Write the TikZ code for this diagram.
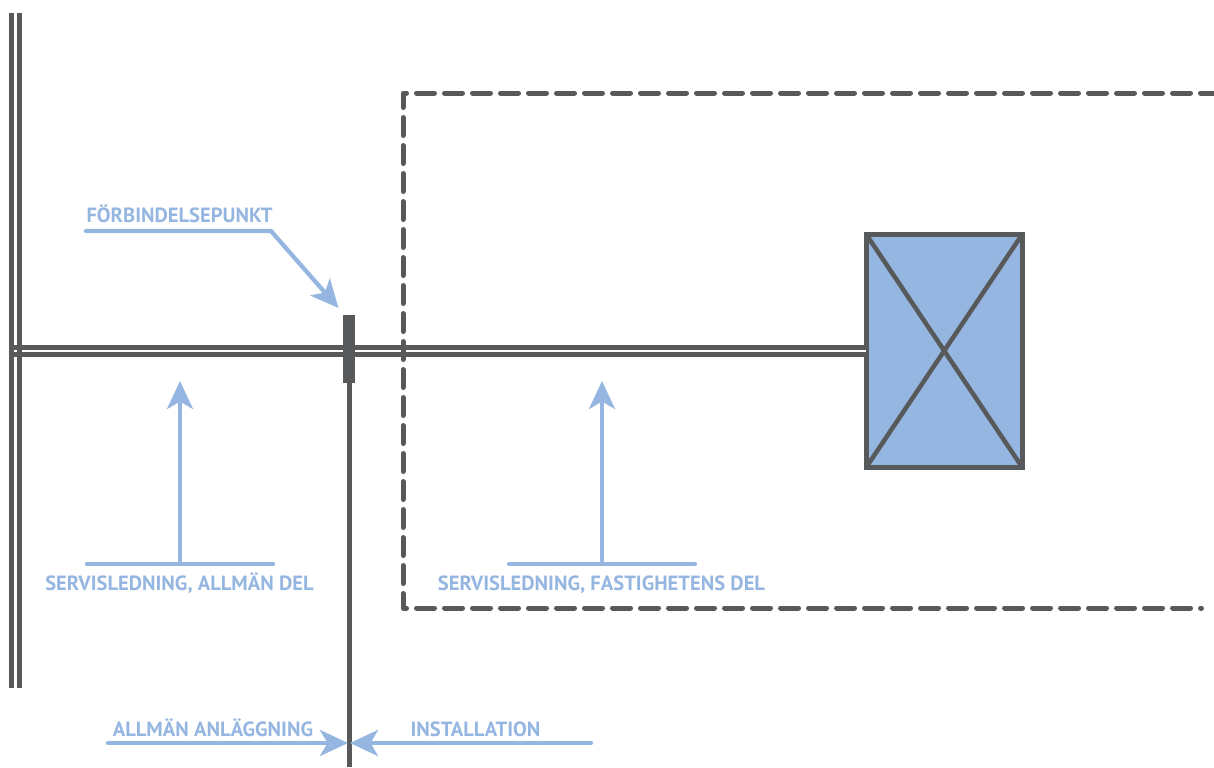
\documentclass[tikz,border=0pt]{standalone}
\usepackage{fontspec}
\usepackage{xcolor}
\usetikzlibrary{arrows.meta}
\setmainfont{PT Sans}
\definecolor{linegray}{HTML}{58595B}
\definecolor{paleblue}{HTML}{95B6E0}
\tikzset{
  pipe/.style={linegray, line width=1mm},
  pipepair/.style={linegray, line width=1mm, double=white, double distance=0.5mm},
  note/.style={paleblue, line width=0.85mm, line cap=round, line join=miter},
  pointer/.style={note, -{Stealth[length=5.6mm,width=5.2mm,inset=1.5mm]}},
  caption/.style={paleblue, anchor=base, font=\bfseries\fontsize{11.7}{13}\selectfont, inner sep=0pt}
}
\begin{document}
\begin{tikzpicture}[x=0.2mm,y=-0.2mm]
\useasboundingbox (0,0) rectangle (1214,767);
\node (cabinet) [draw=linegray, fill=paleblue, line width=1mm, outer sep=0pt, inner sep=0pt,
  minimum width=31.2mm, minimum height=46.6mm] at (944.2,350.8) {};
\draw[linegray, line width=0.9mm] (cabinet.north west) -- (cabinet.south east);
\draw[linegray, line width=0.9mm] (cabinet.north east) -- (cabinet.south west);
% service line
\coordinate (mainend) at (9,350.8);
\draw[pipepair] (mainend) -- (cabinet.west |- mainend);
\draw[pipe] (11.5,13) -- (11.5,688);
\draw[pipe] (19.5,13) -- (19.5,688);
\node (joint) [fill=linegray, outer sep=0pt, inner sep=0pt, minimum width=2.4mm, minimum height=13.6mm] at (349,349) {};
\coordinate (boundend) at (349,767);
\draw[pipe] (joint.south) -- (boundend);
% building
\draw[pipe, line cap=round, line join=round, dash pattern=on 3.6mm off 2mm, dash phase=0.9mm]
  (1214,93) -- (403,93) -- (403,608) -- (1201.5,608);
% labels
\node (pointlabel) [caption] at (179.5,222) {FÖRBINDELSEPUNKT};
\coordinate (pointa) at (86,231);
\coordinate (pointb) at (271,231);
\coordinate (pointc) at (338.5,308);
\draw[pointer] (pointa) -- (pointb) -- (pointc);
\node (publiclabel) [caption] at (179.5,590) {SERVISLEDNING, ALLMÄN DEL};
\coordinate (publica) at (87,564);
\coordinate (publicb) at (273,564);
\coordinate (publicc) at (180,564);
\coordinate (publicd) at (180,381);
\draw[note] (publica) -- (publicb);
\draw[pointer] (publicc) -- (publicd);
\node (privatelabel) [caption] at (601.5,590) {SERVISLEDNING, FASTIGHETENS DEL};
\coordinate (privatea) at (509,564);
\coordinate (privateb) at (695,564);
\coordinate (privatec) at (602,564);
\coordinate (privated) at (602,381);
\draw[note] (privatea) -- (privateb);
\draw[pointer] (privatec) -- (privated);
\node (facilitylabel) [caption] at (213,736) {ALLMÄN ANLÄGGNING};
\node (installlabel) [caption] at (475.5,736) {INSTALLATION};
\coordinate (facilitya) at (108,743);
\coordinate (facilityb) at (348,743);
\coordinate (installa) at (591,743);
\coordinate (installb) at (350,743);
\draw[pointer] (facilitya) -- (facilityb);
\draw[pointer] (installa) -- (installb);
\end{tikzpicture}
\end{document}
